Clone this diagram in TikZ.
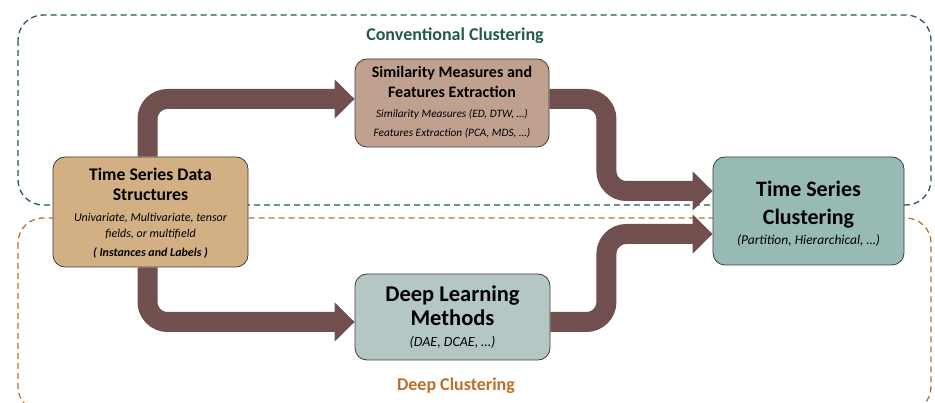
\documentclass[tikz,border=0pt]{standalone}
\usepackage{fontspec}
\setmainfont{Carlito}
\usetikzlibrary{arrows.meta}
\definecolor{tsdsc}{RGB}{210,176,132}
\definecolor{simc}{RGB}{192,160,143}
\definecolor{tscc}{RGB}{151,186,181}
\definecolor{dlc}{RGB}{181,199,197}
\definecolor{flowc}{RGB}{113,79,78}
\definecolor{boxline}{RGB}{60,60,60}
\definecolor{greenc}{RGB}{36,90,76}
\definecolor{orangec}{RGB}{190,110,40}
\tikzset{
  box/.style={draw=boxline, line width=0.8pt, rounded corners=12pt, inner sep=0pt},
  flow/.style={draw=flowc, line width=20pt, rounded corners=20pt, -{Triangle[length=20pt,width=38pt]}},
  region/.style={line width=1.3pt, dash pattern=on 6pt off 4pt, rounded corners=25pt},
  txt/.style={anchor=base, inner sep=0pt},
}
\begin{document}
\begin{tikzpicture}[x=1pt,y=-1pt]
\useasboundingbox (0,0) rectangle (935,403);
% regions
\draw[region, draw=greenc] (18,15) rectangle (931,205);
\draw[region, draw=orangec] (18,218) rectangle (931,412);
\node[txt, font=\fontsize{18}{20}\selectfont\bfseries, text=greenc] (conv) at (455,41) {Conventional Clustering};
\node[txt, font=\fontsize{18}{20}\selectfont\bfseries, text=orangec] (deepc) at (456,391) {Deep Clustering};
% boxes
\node[box, fill=tsdsc, minimum width=195pt, minimum height=110pt] (tsds) at (150.5,212) {};
\node[box, fill=simc, minimum width=194pt, minimum height=88pt] (sim) at (452,103) {};
\node[box, fill=tscc, minimum width=191pt, minimum height=108pt] (tsc) at (808.5,211) {};
\node[box, fill=dlc, minimum width=195pt, minimum height=86pt] (dl) at (452.5,317) {};
% flows
\draw[flow] ([xshift=-3pt]tsds.north) |- ([yshift=4pt]sim.west);
\draw[flow] ([yshift=4pt]sim.east) -- ++(57,0) |- ([yshift=20pt]tsc.west);
\draw[flow] ([xshift=-3pt]tsds.south) |- ([yshift=-5pt]dl.west);
\draw[flow] ([yshift=-5pt]dl.east) -- ++(56,0) |- ([yshift=-23pt]tsc.west);
% texts TSDS
\node[txt, font=\fontsize{17.7}{20}\selectfont\bfseries] (t1) at (150.5,181) {Time Series Data};
\node[txt, font=\fontsize{17.7}{20}\selectfont\bfseries] (t2) at (150.5,201) {Structures};
\node[txt, font=\fontsize{12}{14}\selectfont\itshape] (t3) at (150.5,222) {Univariate, Multivariate, tensor};
\node[txt, font=\fontsize{12}{14}\selectfont\itshape] (t4) at (150.5,238) {fields, or multifield};
\node[txt, font=\fontsize{12}{14}\selectfont\itshape\bfseries] (t5) at (150.5,257) {( Instances and Labels )};
% texts sim
\node[txt, font=\fontsize{16}{18}\selectfont\bfseries] (s1) at (452,78) {Similarity Measures and};
\node[txt, font=\fontsize{16}{18}\selectfont\bfseries] (s2) at (452,98) {Features Extraction};
\node[txt, font=\fontsize{11.3}{13}\selectfont\itshape] (s3) at (452,118) {Similarity Measures (ED, DTW, …)};
\node[txt, font=\fontsize{11.3}{13}\selectfont\itshape] (s4) at (452,137) {Features Extraction (PCA, MDS, …)};
% texts tsc
\node[txt, font=\fontsize{22}{24}\selectfont\bfseries] (c1) at (808.5,197) {Time Series};
\node[txt, font=\fontsize{22}{24}\selectfont\bfseries] (c2) at (808.5,225) {Clustering};
\node[txt, font=\fontsize{13.5}{15}\selectfont\itshape] (c3) at (808.5,245) {(Partition, Hierarchical, …)};
% texts dl
\node[txt, font=\fontsize{22.5}{24}\selectfont\bfseries] (d1) at (452.5,302) {Deep Learning};
\node[txt, font=\fontsize{22.5}{24}\selectfont\bfseries] (d2) at (452.5,326) {Methods};
\node[txt, font=\fontsize{14}{15}\selectfont\itshape] (d3) at (452.5,347) {(DAE, DCAE, …)};
\end{tikzpicture}
\end{document}
